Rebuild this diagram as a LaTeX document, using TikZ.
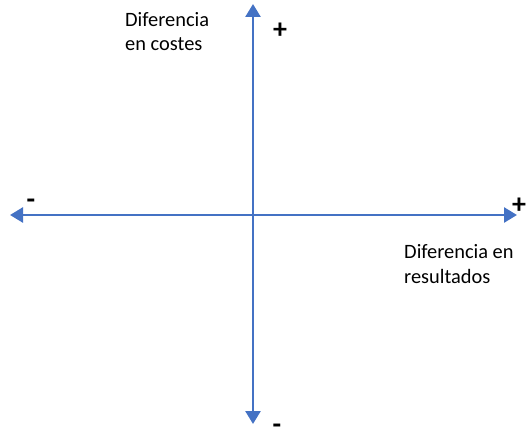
\documentclass[tikz,border=0pt]{standalone}
\usepackage{fontspec}
\setmainfont{Carlito}
\usepackage{tikz}
\usetikzlibrary{arrows.meta}
\definecolor{axisblue}{HTML}{4472C4}

\begin{document}
\begin{tikzpicture}[x=1pt,y=1pt,
            axis/.style = {draw=axisblue, line width=2.6pt,
                {Triangle[width=15pt,length=13pt]}-{Triangle[width=15pt,length=13pt]}},
            every node/.style = {font=\fontsize{20.4}{24.5}\selectfont, inner sep=0pt},
            sign/.style = {anchor=base, font=\fontsize{28}{30}\selectfont\bfseries},
            label/.style = {anchor=base west, align=left}
            ]
            \useasboundingbox (0,0) rectangle (527,432);
            % axis ends
            \coordinate (west) at (10,217);
            \coordinate (east) at (517,217);
            \coordinate (north) at (253,428);
            \coordinate (south) at (253,8);
            \draw[axis] (west) -- (east);
            \draw[axis] (south) -- (north);
            % signs
            \node[sign] (plusy) at (280,393) {+};
            \node[sign] (plusx) at (519,219) {+};
            \node[sign] (minusx) at (31,223.5) {-};
            \node[sign] (minusy) at (277,-1.5) {-};
            % axis titles (base = last line)
            \node[label] (costes) at (125,381) {Diferencia\\en costes};
            \node[label] (resultados) at (404,149) {Diferencia en\\resultados};
\end{tikzpicture}
\end{document}
